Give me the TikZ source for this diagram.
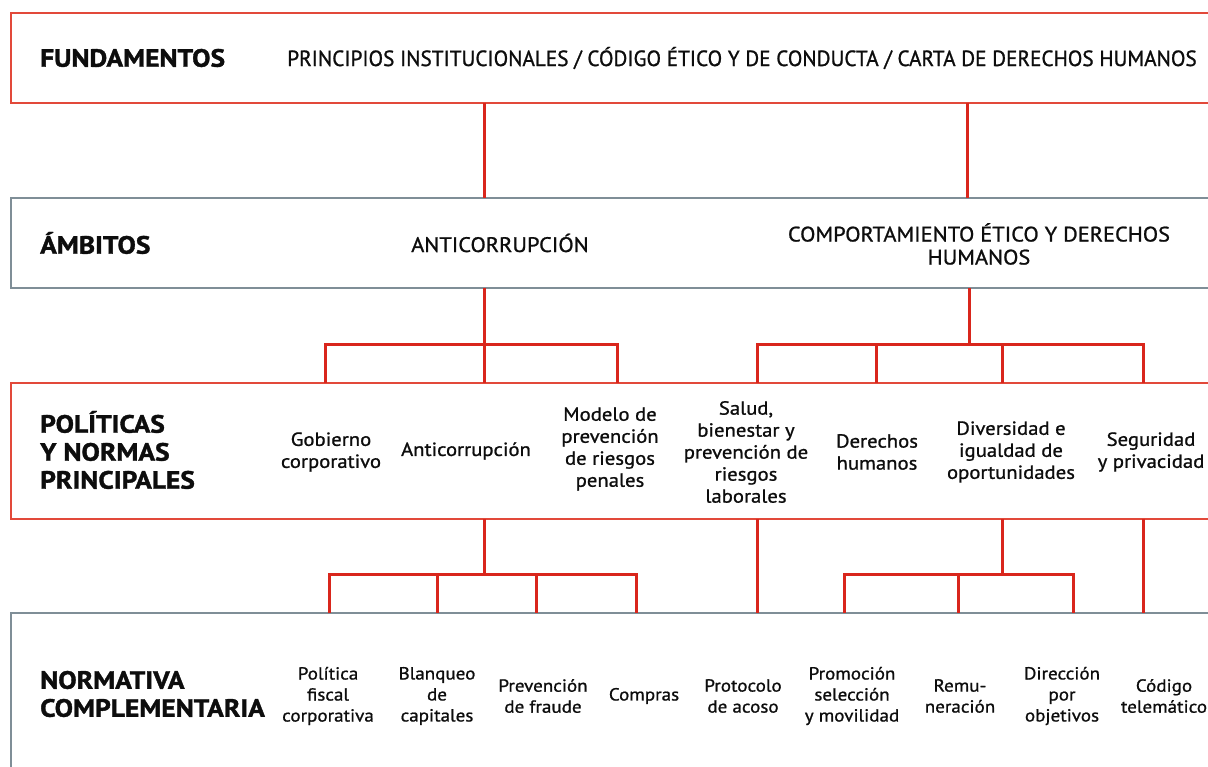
\documentclass[tikz,border=0pt]{standalone}
\usepackage{fontspec}
\setmainfont{PT Sans}
\newfontfamily\hdfont{PT Sans}[FakeStretch=1.1, BoldFeatures={FakeBold=1.4}]
\newfontfamily\prfont{PT Sans}[FakeStretch=0.965, FakeBold=1.0]
\newfontfamily\amfont{PT Sans}[FakeStretch=1.065, FakeBold=1.0]
\newfontfamily\lwfont{PT Sans}[FakeStretch=1.09, FakeBold=1.0]
\definecolor{boxred}{HTML}{E2493A}
\definecolor{boxgray}{HTML}{7F8E97}
\definecolor{linered}{HTML}{D9261C}
\definecolor{ink}{HTML}{0D0D0D}
\begin{document}
\begin{tikzpicture}[x=1pt,y=-1pt,
  boxbase/.style={rectangle, anchor=north west, inner sep=0pt, outer sep=0pt, line width=1.5pt, minimum width=1215pt},
  redbox/.style={boxbase, draw=boxred},
  graybox/.style={boxbase, draw=boxgray},
  conn/.style={draw=linered, line width=3pt, line join=miter},
  head/.style={anchor=west, align=left, text=ink, inner sep=0pt, font=\hdfont\bfseries\fontsize{25}{28}\selectfont},
  toptext/.style={text=ink, inner sep=0pt, font=\prfont\fontsize{22}{24}\selectfont},
  ambtext/.style={align=center, text=ink, inner sep=0pt, font=\amfont\fontsize{21}{23}\selectfont},
  poltext/.style={align=center, text=ink, inner sep=0pt, font=\lwfont\fontsize{19}{22}\selectfont},
  nortext/.style={align=center, text=ink, inner sep=0pt, font=\lwfont\fontsize{17.5}{21}\selectfont}
]
\clip (0,0) rectangle (1208,767);
\fill[white] (0,0) rectangle (1208,767);

% boxes
\node[redbox, minimum height=90pt] (fund) at (11,13) {};
\node[graybox, minimum height=90pt] (amb) at (11,198) {};
\node[redbox, minimum height=136pt] (pol) at (11,383) {};
\node[graybox, minimum height=200pt] (nor) at (11,613) {};

% headers
\node[head] (hfund) at (40,58) {FUNDAMENTOS};
\node[head] (hamb) at (40,243) {ÁMBITOS};
\node[head] (hpol) at (40,450) {POLÍTICAS\\Y NORMAS\\PRINCIPALES};
\node[head] (hnor) at (40,694) {NORMATIVA\\COMPLEMENTARIA};

% texts
\node[toptext] (princ) at (742,58) {PRINCIPIOS INSTITUCIONALES / CÓDIGO ÉTICO Y DE CONDUCTA / CARTA DE DERECHOS HUMANOS};
\node[ambtext] (anti) at (500,243) {ANTICORRUPCIÓN};
\node[ambtext] (comp) at (979,244) {COMPORTAMIENTO ÉTICO Y DERECHOS\\HUMANOS};

\node[poltext] (gob) at (331,452) {Gobierno\\corporativo};
\node[poltext] (panti) at (466,451) {Anticorrupción};
\node[poltext] (mod) at (610,449) {Modelo de\\prevención\\de riesgos\\penales};
\node[poltext] (sal) at (746,452) {Salud,\\bienestar y\\prevención de\\riesgos\\laborales};
\node[poltext] (der) at (877,452) {Derechos\\humanos};
\node[poltext] (div) at (1011,452) {Diversidad e\\igualdad de\\oportunidades};
\node[poltext] (seg) at (1151,452) {Seguridad\\y privacidad};

\node[nortext] (fis) at (328,696) {Política\\fiscal\\corporativa};
\node[nortext] (bla) at (437,696) {Blanqueo\\de\\capitales};
\node[nortext] (fra) at (543,696) {Prevención\\de fraude};
\node[nortext] (cpr) at (644,696) {Compras};
\node[nortext] (aco) at (743,696) {Protocolo\\de acoso};
\node[nortext] (pro) at (852,696) {Promoción\\selección\\y movilidad};
\node[nortext] (rem) at (960,696) {Remu-\\neración};
\node[nortext] (dir) at (1062,696) {Dirección\\por\\objetivos};
\node[nortext] (cod) at (1164,696) {Código\\telemático};

% branch coordinates
\coordinate (xA) at (484,0);
\coordinate (xB) at (967,0);
\coordinate (bA) at (484,345);
\coordinate (bB) at (969,345);
\coordinate (dGob) at (325,345);
\coordinate (dMod) at (617,345);
\coordinate (dSal) at (757,345);
\coordinate (dDer) at (876,345);
\coordinate (dDiv) at (1002,345);
\coordinate (dSeg) at (1143,345);
\coordinate (bC) at (484,574);
\coordinate (dFis) at (329,574);
\coordinate (dBla) at (437,574);
\coordinate (dFra) at (536,574);
\coordinate (dCpr) at (636,574);
\coordinate (xAco) at (757,0);
\coordinate (bD) at (1002,574);
\coordinate (dPro) at (844,574);
\coordinate (dRem) at (958,574);
\coordinate (dDir) at (1073,574);
\coordinate (xCod) at (1143,0);

% fundamentos -> ambitos
\draw[conn] (fund.south -| xA) -- (amb.north -| xA);
\draw[conn] (fund.south -| xB) -- (amb.north -| xB);

% ambitos -> politicas
\draw[conn] (amb.south -| bA) -- (bA);
\draw[conn] (pol.north -| dGob) -- (dGob) -- (dMod) -- (pol.north -| dMod);
\draw[conn] (bA) -- (pol.north -| bA);
\draw[conn] (amb.south -| bB) -- (bB);
\draw[conn] (pol.north -| dSal) -- (dSal) -- (dSeg) -- (pol.north -| dSeg);
\draw[conn] (dDer) -- (pol.north -| dDer);
\draw[conn] (dDiv) -- (pol.north -| dDiv);

% politicas -> normativa
\draw[conn] (pol.south -| bC) -- (bC);
\draw[conn] (nor.north -| dFis) -- (dFis) -- (dCpr) -- (nor.north -| dCpr);
\draw[conn] (dBla) -- (nor.north -| dBla);
\draw[conn] (dFra) -- (nor.north -| dFra);
\draw[conn] (pol.south -| xAco) -- (nor.north -| xAco);
\draw[conn] (pol.south -| bD) -- (bD);
\draw[conn] (nor.north -| dPro) -- (dPro) -- (dDir) -- (nor.north -| dDir);
\draw[conn] (dRem) -- (nor.north -| dRem);
\draw[conn] (pol.south -| xCod) -- (nor.north -| xCod);
\end{tikzpicture}
\end{document}
